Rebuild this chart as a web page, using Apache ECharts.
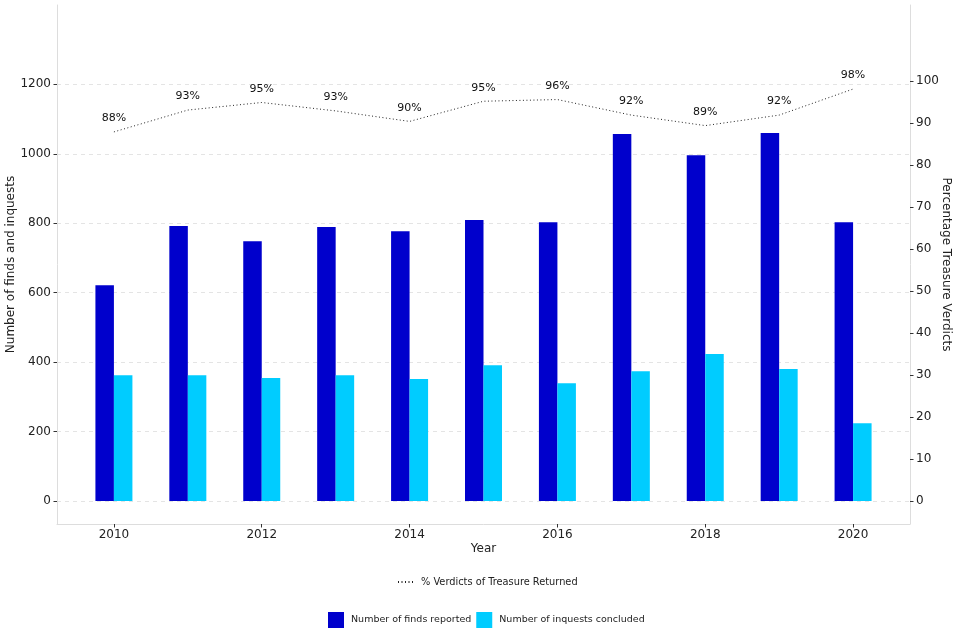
<!DOCTYPE html>
<html>
<head>
<meta charset="utf-8">
<script src="https://cdn.jsdelivr.net/npm/echarts@6/dist/echarts.min.js"></script>
<style>
html,body{margin:0;padding:0;background:#fff;}
#chart{width:960px;height:640px;}
</style>
</head>
<body>
<div id="chart"></div>
<script>
const years = [2010, 2011, 2012, 2013, 2014, 2015, 2016, 2017, 2018, 2019, 2020];
const findsReported = [621, 792, 748, 789, 777, 809, 803, 1057, 996, 1060, 803];
const inquestsConcluded = [362, 362, 354, 362, 351, 391, 339, 374, 423, 380, 224];
const pctTreasure = [87.9, 93.1, 94.9, 92.9, 90.4, 95.2, 95.6, 91.9, 89.4, 91.9, 98.1];
const xTicks = [2010, 2012, 2014, 2016, 2018, 2020];
const leftTicks = [0, 200, 400, 600, 800, 1000, 1200];
const rightTicks = [0, 10, 20, 30, 40, 50, 60, 70, 80, 90, 100];

const FONT = 'DejaVu Sans';
const axisLineStyle = { color: '#dddddd', width: 1 };
const tickStyle = { color: '#333333', width: 1 };

const chart = echarts.init(document.getElementById('chart'), null, { renderer: 'canvas' });
chart.setOption({
  animation: false,
  backgroundColor: '#ffffff',
  textStyle: { fontFamily: FONT },
  grid: { left: 57, right: 50, top: 5, bottom: 116, containLabel: false, outerBoundsMode: 'none' },
  legend: [
    {
      data: [{ name: '% Verdicts of Treasure Returned', itemStyle: { opacity: 0 } }],
      left: 392, top: 572,
      itemWidth: 16, itemHeight: 8, itemGap: 6,
      textStyle: { fontFamily: FONT, fontSize: 9.8, color: '#222', padding: [0, 0, 0, 2] }
    },
    {
      data: ['Number of finds reported', 'Number of inquests concluded'],
      left: 323, top: 607,
      icon: 'rect',
      itemWidth: 16, itemHeight: 16, itemGap: 5,
      textStyle: { fontFamily: FONT, fontSize: 9.5, color: '#222', padding: [0, 0, 0, 2] }
    }
  ],
  xAxis: {
    type: 'value',
    min: 2009.23, max: 2020.77,
    name: 'Year', nameLocation: 'middle', nameGap: 19, nameMoveOverlap: false,
    nameTextStyle: { fontFamily: FONT, fontSize: 12, color: '#222' },
    axisLine: { show: true, onZero: false, lineStyle: axisLineStyle },
    axisTick: { show: true, length: 3.5, lineStyle: tickStyle, customValues: xTicks },
    axisLabel: { customValues: xTicks, fontFamily: FONT, fontSize: 12, color: '#222', margin: 5, formatter: v => String(v) },
    splitLine: { show: false }
  },
  yAxis: [
    {
      type: 'value', position: 'left',
      min: -66.3, max: 1428.5,
      name: 'Number of finds and inquests', nameLocation: 'middle', nameGap: 40, nameRotate: 90,
      nameMoveOverlap: false,
      nameTextStyle: { fontFamily: FONT, fontSize: 12, color: '#222' },
      axisLine: { show: true, lineStyle: axisLineStyle },
      axisTick: { show: true, length: 3.5, lineStyle: tickStyle, customValues: leftTicks },
      axisLabel: { customValues: leftTicks, fontFamily: FONT, fontSize: 12, color: '#222', margin: 6, formatter: v => String(v) },
      splitLine: { show: true, lineStyle: { color: '#e4e4e4', type: [4, 4], width: 1 } }
    },
    {
      type: 'value', position: 'right',
      min: -5.4, max: 118.1,
      name: 'Percentage Treasure Verdicts', nameLocation: 'middle', nameGap: 30, nameRotate: -90,
      nameMoveOverlap: false,
      nameTextStyle: { fontFamily: FONT, fontSize: 12, color: '#222' },
      axisLine: { show: true, lineStyle: axisLineStyle },
      axisTick: { show: true, length: 3.5, lineStyle: tickStyle, customValues: rightTicks },
      axisLabel: { customValues: rightTicks, fontFamily: FONT, fontSize: 12, color: '#222', margin: 6, formatter: v => String(v) },
      splitLine: { show: false }
    }
  ],
  series: [
    {
      name: 'Number of finds reported',
      type: 'bar', yAxisIndex: 0,
      barWidth: 18.5, barGap: '0%',
      itemStyle: { color: '#0000cc' },
      data: years.map((y, i) => [y, findsReported[i]])
    },
    {
      name: 'Number of inquests concluded',
      type: 'bar', yAxisIndex: 0,
      barWidth: 18.5, barGap: '0%',
      itemStyle: { color: '#00ccff' },
      data: years.map((y, i) => [y, inquestsConcluded[i]])
    },
    {
      name: '% Verdicts of Treasure Returned',
      type: 'line', yAxisIndex: 1,
      symbol: 'circle', symbolSize: 0, showSymbol: true, smooth: false,
      lineStyle: { color: '#222', width: 1, type: [1, 2.5] },
      itemStyle: { color: '#222' },
      label: {
        show: true, position: 'top', distance: 8,
        fontFamily: FONT, fontSize: 11, color: '#111',
        formatter: p => Math.round(p.value[1]) + '%'
      },
      data: years.map((y, i) => [y, pctTreasure[i]]),
      z: 5
    }
  ]
});
</script>
</body>
</html>
